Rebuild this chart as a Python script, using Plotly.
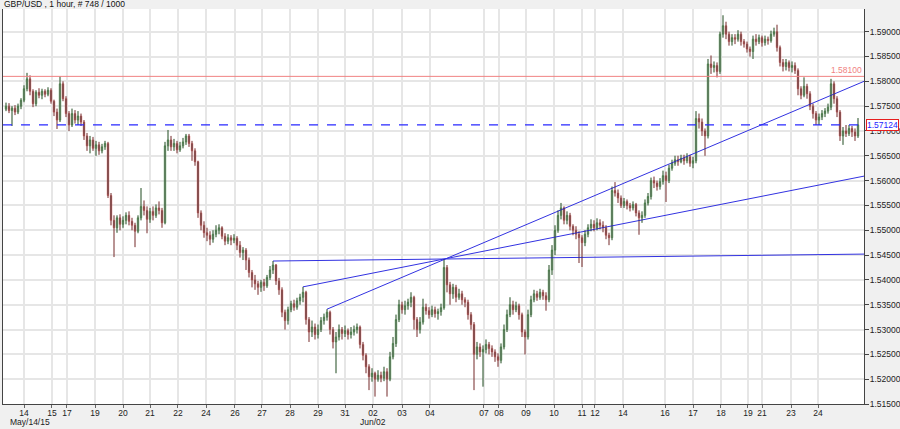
import plotly.graph_objects as go

title_text = "GBP/USD , 1 hour, # 748 / 1000"

closes = [
1.5750, 1.5741, 1.5746, 1.5738, 1.5750, 1.5762, 1.5785, 1.5805, 1.5780, 1.5755,
1.5778, 1.5772, 1.5780, 1.5774, 1.5782, 1.5760, 1.5738, 1.5722, 1.5795, 1.5765,
1.5735, 1.5712, 1.5735, 1.5722, 1.5730, 1.5718, 1.5690, 1.5670, 1.5682, 1.5665,
1.5672, 1.5660, 1.5668, 1.5675, 1.5570, 1.5520, 1.5505, 1.5525, 1.5512, 1.5520,
1.5530, 1.5518, 1.5510, 1.5498, 1.5525, 1.5548, 1.5540, 1.5522, 1.5538, 1.5530,
1.5545, 1.5540, 1.5515, 1.5670, 1.5682, 1.5668, 1.5675, 1.5662, 1.5670, 1.5678,
1.5690, 1.5675, 1.5660, 1.5638, 1.5535, 1.5510, 1.5495, 1.5490, 1.5482, 1.5492,
1.5500, 1.5505, 1.5488, 1.5478, 1.5485, 1.5480, 1.5484, 1.5470, 1.5455, 1.5460,
1.5440, 1.5415, 1.5400, 1.5392, 1.5385, 1.5395, 1.5388, 1.5405, 1.5420, 1.5430,
1.5398, 1.5380, 1.5335, 1.5318, 1.5340, 1.5352, 1.5345, 1.5358, 1.5365, 1.5375,
1.5320, 1.5295, 1.5305, 1.5290, 1.5300, 1.5318, 1.5325, 1.5335, 1.5300, 1.5275,
1.5285, 1.5300, 1.5292, 1.5298, 1.5290, 1.5295, 1.5300, 1.5305, 1.5270, 1.5248,
1.5225, 1.5205, 1.5212, 1.5200, 1.5208, 1.5202, 1.5215, 1.5200, 1.5245, 1.5272,
1.5320, 1.5350, 1.5340, 1.5348, 1.5355, 1.5365, 1.5320, 1.5300, 1.5315, 1.5345,
1.5338, 1.5330, 1.5340, 1.5332, 1.5336, 1.5344, 1.5425, 1.5390, 1.5372, 1.5385,
1.5365, 1.5372, 1.5360, 1.5355, 1.5330, 1.5310, 1.5250, 1.5265, 1.5255, 1.5260,
1.5270, 1.5262, 1.5255, 1.5245, 1.5238, 1.5265, 1.5300, 1.5330, 1.5350, 1.5340,
1.5348, 1.5330, 1.5295, 1.5285, 1.5330, 1.5360, 1.5372, 1.5365, 1.5375, 1.5368,
1.5360, 1.5420, 1.5460, 1.5500, 1.5530, 1.5545, 1.5520, 1.5530, 1.5508, 1.5500,
1.5492, 1.5485, 1.5475, 1.5492, 1.5505, 1.5512, 1.5505, 1.5515, 1.5510, 1.5505,
1.5490, 1.5485, 1.5580, 1.5575, 1.5565, 1.5550, 1.5558, 1.5550, 1.5545, 1.5552,
1.5535, 1.5525, 1.5530, 1.5555, 1.5568, 1.5600, 1.5595, 1.5588, 1.5598, 1.5610,
1.5600, 1.5625, 1.5635, 1.5642, 1.5638, 1.5645, 1.5640, 1.5648, 1.5635, 1.5640,
1.5725, 1.5718, 1.5700, 1.5690, 1.5835, 1.5828, 1.5832, 1.5820, 1.5895, 1.5912,
1.5895, 1.5880, 1.5888, 1.5885, 1.5895, 1.5880, 1.5875, 1.5865, 1.5860, 1.5885,
1.5880, 1.5888, 1.5878, 1.5885, 1.5882, 1.5895, 1.5900, 1.5868, 1.5838, 1.5830,
1.5838, 1.5828, 1.5832, 1.5822, 1.5785, 1.5772, 1.5790, 1.5775, 1.5750, 1.5735,
1.5722, 1.5728, 1.5735, 1.5740, 1.5748, 1.5795, 1.5765, 1.5738, 1.5690, 1.5700,
1.5695, 1.5705, 1.5698, 1.5690, 1.57124,
]

opens = [
1.5744, 1.5750, 1.5741, 1.5746, 1.5738, 1.5750, 1.5762, 1.5785, 1.5805, 1.5780,
1.5755, 1.5778, 1.5772, 1.5780, 1.5774, 1.5782, 1.5760, 1.5738, 1.5722, 1.5795,
1.5765, 1.5735, 1.5712, 1.5735, 1.5722, 1.5730, 1.5718, 1.5690, 1.5670, 1.5682,
1.5665, 1.5672, 1.5660, 1.5668, 1.5675, 1.5570, 1.5520, 1.5505, 1.5525, 1.5512,
1.5520, 1.5530, 1.5518, 1.5510, 1.5498, 1.5525, 1.5548, 1.5540, 1.5522, 1.5538,
1.5530, 1.5545, 1.5540, 1.5515, 1.5670, 1.5682, 1.5668, 1.5675, 1.5662, 1.5670,
1.5678, 1.5690, 1.5675, 1.5660, 1.5638, 1.5535, 1.5510, 1.5495, 1.5490, 1.5482,
1.5492, 1.5500, 1.5505, 1.5488, 1.5478, 1.5485, 1.5480, 1.5484, 1.5470, 1.5455,
1.5460, 1.5440, 1.5415, 1.5400, 1.5392, 1.5385, 1.5395, 1.5388, 1.5405, 1.5420,
1.5430, 1.5398, 1.5380, 1.5335, 1.5318, 1.5340, 1.5352, 1.5345, 1.5358, 1.5365,
1.5375, 1.5320, 1.5295, 1.5305, 1.5290, 1.5300, 1.5318, 1.5325, 1.5335, 1.5300,
1.5275, 1.5285, 1.5300, 1.5292, 1.5298, 1.5290, 1.5295, 1.5300, 1.5305, 1.5270,
1.5248, 1.5225, 1.5205, 1.5212, 1.5200, 1.5208, 1.5202, 1.5215, 1.5200, 1.5245,
1.5272, 1.5320, 1.5350, 1.5340, 1.5348, 1.5355, 1.5365, 1.5320, 1.5300, 1.5315,
1.5345, 1.5338, 1.5330, 1.5340, 1.5332, 1.5336, 1.5344, 1.5425, 1.5390, 1.5372,
1.5385, 1.5365, 1.5372, 1.5360, 1.5355, 1.5330, 1.5310, 1.5250, 1.5265, 1.5255,
1.5260, 1.5270, 1.5262, 1.5255, 1.5245, 1.5238, 1.5265, 1.5300, 1.5330, 1.5350,
1.5340, 1.5348, 1.5330, 1.5295, 1.5285, 1.5330, 1.5360, 1.5372, 1.5365, 1.5375,
1.5368, 1.5360, 1.5420, 1.5460, 1.5500, 1.5530, 1.5545, 1.5520, 1.5530, 1.5508,
1.5500, 1.5492, 1.5485, 1.5475, 1.5492, 1.5505, 1.5512, 1.5505, 1.5515, 1.5510,
1.5505, 1.5490, 1.5485, 1.5580, 1.5575, 1.5565, 1.5550, 1.5558, 1.5550, 1.5545,
1.5552, 1.5535, 1.5525, 1.5530, 1.5555, 1.5568, 1.5600, 1.5595, 1.5588, 1.5598,
1.5610, 1.5600, 1.5625, 1.5635, 1.5642, 1.5638, 1.5645, 1.5640, 1.5648, 1.5635,
1.5640, 1.5725, 1.5718, 1.5700, 1.5690, 1.5835, 1.5828, 1.5832, 1.5820, 1.5895,
1.5912, 1.5895, 1.5880, 1.5888, 1.5885, 1.5895, 1.5880, 1.5875, 1.5865, 1.5860,
1.5885, 1.5880, 1.5888, 1.5878, 1.5885, 1.5882, 1.5895, 1.5900, 1.5868, 1.5838,
1.5830, 1.5838, 1.5828, 1.5832, 1.5822, 1.5785, 1.5772, 1.5790, 1.5775, 1.5750,
1.5735, 1.5722, 1.5728, 1.5735, 1.5740, 1.5748, 1.5795, 1.5765, 1.5738, 1.5690,
1.5700, 1.5695, 1.5705, 1.5698, 1.5690,
]

highs = [
1.5757, 1.5756, 1.5750, 1.5752, 1.5755, 1.5766, 1.5792, 1.5817, 1.5812, 1.5784,
1.5782, 1.5786, 1.5785, 1.5784, 1.5788, 1.5786, 1.5763, 1.5745, 1.5810, 1.5800,
1.5770, 1.5740, 1.5745, 1.5742, 1.5740, 1.5735, 1.5722, 1.5696, 1.5690, 1.5688,
1.5680, 1.5678, 1.5674, 1.5680, 1.5678, 1.5575, 1.5530, 1.5530, 1.5532, 1.5528,
1.5536, 1.5538, 1.5525, 1.5515, 1.5530, 1.5585, 1.5560, 1.5548, 1.5545, 1.5548,
1.5552, 1.5558, 1.5545, 1.5678, 1.5702, 1.5690, 1.5684, 1.5680, 1.5678, 1.5686,
1.5694, 1.5694, 1.5680, 1.5665, 1.5640, 1.5540, 1.5518, 1.5505, 1.5498, 1.5500,
1.5510, 1.5512, 1.5508, 1.5494, 1.5492, 1.5490, 1.5492, 1.5488, 1.5478, 1.5466,
1.5464, 1.5445, 1.5420, 1.5410, 1.5398, 1.5400, 1.5402, 1.5410, 1.5428, 1.5438,
1.5432, 1.5404, 1.5385, 1.5340, 1.5346, 1.5358, 1.5360, 1.5364, 1.5372, 1.5386,
1.5378, 1.5325, 1.5318, 1.5312, 1.5310, 1.5325, 1.5332, 1.5341, 1.5338, 1.5305,
1.5295, 1.5310, 1.5305, 1.5308, 1.5302, 1.5305, 1.5308, 1.5312, 1.5308, 1.5275,
1.5252, 1.5230, 1.5222, 1.5215, 1.5218, 1.5215, 1.5225, 1.5222, 1.5255, 1.5285,
1.5330, 1.5360, 1.5356, 1.5358, 1.5362, 1.5375, 1.5368, 1.5325, 1.5325, 1.5362,
1.5352, 1.5345, 1.5348, 1.5346, 1.5342, 1.5352, 1.5442, 1.5430, 1.5396, 1.5392,
1.5390, 1.5382, 1.5378, 1.5365, 1.5360, 1.5335, 1.5315, 1.5275, 1.5272, 1.5268,
1.5280, 1.5275, 1.5268, 1.5260, 1.5252, 1.5272, 1.5310, 1.5340, 1.5365, 1.5358,
1.5356, 1.5352, 1.5334, 1.5300, 1.5340, 1.5368, 1.5380, 1.5378, 1.5382, 1.5380,
1.5375, 1.5430, 1.5470, 1.5510, 1.5540, 1.5555, 1.5548, 1.5538, 1.5535, 1.5512,
1.5508, 1.5498, 1.5490, 1.5500, 1.5512, 1.5522, 1.5520, 1.5524, 1.5522, 1.5518,
1.5510, 1.5495, 1.5588, 1.5597, 1.5582, 1.5570, 1.5565, 1.5562, 1.5555, 1.5558,
1.5555, 1.5540, 1.5538, 1.5562, 1.5575, 1.5606, 1.5608, 1.5600, 1.5605, 1.5620,
1.5618, 1.5632, 1.5642, 1.5650, 1.5650, 1.5652, 1.5652, 1.5655, 1.5652, 1.5648,
1.5740, 1.5735, 1.5725, 1.5705, 1.5845, 1.5852, 1.5840, 1.5838, 1.5900, 1.5933,
1.5920, 1.5900, 1.5895, 1.5895, 1.5903, 1.5900, 1.5885, 1.5880, 1.5870, 1.5892,
1.5895, 1.5894, 1.5892, 1.5892, 1.5890, 1.5902, 1.5908, 1.5914, 1.5872, 1.5845,
1.5845, 1.5842, 1.5840, 1.5838, 1.5826, 1.5790, 1.5808, 1.5795, 1.5780, 1.5755,
1.5740, 1.5735, 1.5742, 1.5746, 1.5755, 1.5805, 1.5800, 1.5770, 1.5742, 1.5708,
1.5712, 1.5712, 1.5710, 1.5705, 1.5726,
]

lows = [
1.5740, 1.5736, 1.5710, 1.5732, 1.5734, 1.5744, 1.5758, 1.5780, 1.5772, 1.5748,
1.5750, 1.5766, 1.5764, 1.5768, 1.5770, 1.5755, 1.5730, 1.5704, 1.5718, 1.5760,
1.5728, 1.5700, 1.5708, 1.5715, 1.5712, 1.5710, 1.5682, 1.5660, 1.5655, 1.5660,
1.5650, 1.5652, 1.5655, 1.5662, 1.5565, 1.5510, 1.5446, 1.5495, 1.5500, 1.5505,
1.5512, 1.5510, 1.5500, 1.5466, 1.5494, 1.5520, 1.5530, 1.5494, 1.5515, 1.5520,
1.5525, 1.5532, 1.5505, 1.5512, 1.5660, 1.5660, 1.5660, 1.5655, 1.5658, 1.5665,
1.5672, 1.5668, 1.5640, 1.5630, 1.5525, 1.5500, 1.5485, 1.5478, 1.5470, 1.5475,
1.5486, 1.5492, 1.5482, 1.5470, 1.5472, 1.5470, 1.5474, 1.5460, 1.5445, 1.5440,
1.5420, 1.5405, 1.5385, 1.5380, 1.5370, 1.5376, 1.5378, 1.5384, 1.5400, 1.5412,
1.5390, 1.5370, 1.5325, 1.5300, 1.5310, 1.5335, 1.5338, 1.5340, 1.5350, 1.5355,
1.5310, 1.5275, 1.5285, 1.5280, 1.5282, 1.5295, 1.5310, 1.5318, 1.5290, 1.5262,
1.5212, 1.5278, 1.5280, 1.5285, 1.5280, 1.5282, 1.5288, 1.5292, 1.5262, 1.5238,
1.5212, 1.5178, 1.5195, 1.5165, 1.5195, 1.5194, 1.5196, 1.5165, 1.5196, 1.5240,
1.5265, 1.5315, 1.5332, 1.5330, 1.5340, 1.5345, 1.5300, 1.5285, 1.5292, 1.5310,
1.5330, 1.5322, 1.5325, 1.5324, 1.5320, 1.5328, 1.5340, 1.5375, 1.5350, 1.5362,
1.5355, 1.5360, 1.5350, 1.5345, 1.5320, 1.5300, 1.5178, 1.5240, 1.5245, 1.5185,
1.5252, 1.5250, 1.5245, 1.5235, 1.5225, 1.5232, 1.5260, 1.5295, 1.5325, 1.5330,
1.5335, 1.5320, 1.5285, 1.5250, 1.5280, 1.5325, 1.5355, 1.5358, 1.5360, 1.5360,
1.5338, 1.5355, 1.5410, 1.5450, 1.5495, 1.5522, 1.5512, 1.5512, 1.5500, 1.5490,
1.5482, 1.5434, 1.5426, 1.5468, 1.5486, 1.5498, 1.5498, 1.5500, 1.5502, 1.5496,
1.5482, 1.5470, 1.5480, 1.5568, 1.5555, 1.5545, 1.5545, 1.5542, 1.5538, 1.5540,
1.5528, 1.5491, 1.5515, 1.5525, 1.5550, 1.5562, 1.5585, 1.5580, 1.5582, 1.5592,
1.5557, 1.5595, 1.5620, 1.5630, 1.5630, 1.5635, 1.5632, 1.5635, 1.5628, 1.5625,
1.5635, 1.5705, 1.5690, 1.5650, 1.5685, 1.5815, 1.5818, 1.5808, 1.5815, 1.5888,
1.5885, 1.5872, 1.5872, 1.5875, 1.5880, 1.5872, 1.5868, 1.5858, 1.5850, 1.5845,
1.5872, 1.5875, 1.5870, 1.5872, 1.5874, 1.5878, 1.5890, 1.5860, 1.5830, 1.5820,
1.5822, 1.5820, 1.5818, 1.5815, 1.5772, 1.5764, 1.5768, 1.5765, 1.5742, 1.5725,
1.5712, 1.5712, 1.5722, 1.5728, 1.5735, 1.5742, 1.5755, 1.5728, 1.5680, 1.5672,
1.5688, 1.5690, 1.5688, 1.5680, 1.5686,
]

bar_index = list(range(len(closes)))

tick_pos = [6, 15.33, 20.33, 29.67, 39, 48, 57.33, 66.67, 76.33, 85.33, 94.67, 104,
            113, 122.33, 132, 141.33, 159.33, 164.33, 173.33, 182.67, 192, 196.33,
            205.67, 219.67, 229, 238.33, 247.33, 252, 261.67, 270.67]
tick_labels = ["14", "15", "17", "19", "20", "21", "22", "24", "26", "27", "28", "29",
               "31", "02", "03", "04", "07", "08", "09", "10", "11", "12", "14", "16",
               "17", "18", "19", "21", "23", "24"]
sub_labels = ["May/14/15", "Jun/02"]

y_ticks = [1.515, 1.52, 1.525, 1.53, 1.535, 1.54, 1.545, 1.55, 1.555, 1.56,
           1.565, 1.57, 1.575, 1.58, 1.585, 1.59]

resistance_level = 1.581
last_price = 1.57124

# fan lines: (start index, start price) -> (end index, end price)
fan_start_x = [89, 99, 107]
fan_start_y = [1.5438, 1.5386, 1.5341]
fan_end_x = [286, 286, 286]
fan_end_y = [1.5452, 1.5609, 1.5800]

X_MIN, X_MAX = -1, 286
Y_MIN, Y_MAX = 1.515, 1.59457

FONT = "Liberation Sans, Arial, sans-serif"
fig = go.Figure()

# fan lines
for sx, sy, ex, ey in zip(fan_start_x, fan_start_y, fan_end_x, fan_end_y):
    fig.add_trace(go.Scatter(x=[sx, ex], y=[sy, ey], mode="lines",
                             line=dict(color="rgb(50,50,225)", width=1),
                             hoverinfo="skip", showlegend=False))

fig.add_trace(go.Candlestick(
    x=bar_index, open=opens, high=highs, low=lows, close=closes,
    increasing=dict(line=dict(color="rgb(80,160,80)", width=0.8), fillcolor="rgb(140,140,140)"),
    decreasing=dict(line=dict(color="rgb(230,95,95)", width=0.8), fillcolor="rgb(40,40,40)"),
    whiskerwidth=0, showlegend=False, hoverinfo="skip",
))

# dark high-low wicks drawn over the coloured candles
wick_x, wick_y = [], []
for i, h, l in zip(bar_index, highs, lows):
    wick_x += [i, i, None]
    wick_y += [l, h, None]
fig.add_trace(go.Scatter(x=wick_x, y=wick_y, mode="lines",
                         line=dict(color="rgba(45,45,45,0.75)", width=0.8),
                         hoverinfo="skip", showlegend=False))

# horizontal level lines
fig.add_shape(type="line", xref="paper", x0=0, x1=1, yref="y",
              y0=resistance_level, y1=resistance_level,
              line=dict(color="rgb(240,130,130)", width=1))
fig.add_shape(type="line", xref="paper", x0=0, x1=1, yref="y",
              y0=last_price, y1=last_price,
              line=dict(color="rgb(40,40,255)", width=1.2, dash="dash"))

annotations = [
    dict(text=title_text, xref="paper", yref="paper", x=-0.0012, y=1.0114,
         xanchor="left", yanchor="middle", showarrow=False,
         font=dict(size=8.5, color="#111", family=FONT)),
    dict(text=f"{resistance_level:.5f}", xref="x", yref="y", x=X_MAX, y=resistance_level,
         xanchor="right", yanchor="bottom", yshift=-1, showarrow=False,
         font=dict(size=8.5, color="rgb(240,130,130)", family=FONT)),
    dict(text=f"{last_price:.5f}", xref="paper", yref="y", x=1, xshift=2, y=last_price,
         xanchor="left", yanchor="middle", showarrow=False,
         bgcolor="white", bordercolor="rgb(230,30,30)", borderwidth=1, borderpad=0,
         font=dict(size=8.5, color="rgb(30,30,255)", family=FONT)),
    dict(text=sub_labels[0], xref="paper", yref="paper", x=0.0058, y=-0.046,
         xanchor="left", yanchor="middle", showarrow=False,
         font=dict(size=8.5, color="#222", family=FONT)),
    dict(text=sub_labels[1], xref="x", yref="paper", x=tick_pos[13], y=-0.046,
         xanchor="center", yanchor="middle", showarrow=False,
         font=dict(size=8.5, color="#222", family=FONT)),
]

fig.update_layout(
    width=900, height=429,
    margin=dict(l=3, r=36, t=9, b=25, autoexpand=False),
    paper_bgcolor="#f0f0f0", plot_bgcolor="white",
    font=dict(family=FONT, size=8.5, color="#222"),
    showlegend=False,
    annotations=annotations,
    xaxis=dict(
        range=[X_MIN, X_MAX], rangeslider=dict(visible=False),
        tickmode="array", tickvals=tick_pos, ticktext=tick_labels,
        showgrid=True, gridcolor="#e6e6e6", gridwidth=2,
        showline=True, linecolor="#444", linewidth=1,
        ticks="outside", ticklen=3, tickcolor="#666",
        ticklabelstandoff=-2,
        tickfont=dict(size=8.5, color="#222", family=FONT),
        zeroline=False, fixedrange=True, automargin=False,
    ),
    yaxis=dict(
        range=[Y_MIN, Y_MAX], side="right",
        tickmode="array", tickvals=y_ticks, ticktext=[f"{v:.5f}" for v in y_ticks],
        showgrid=True, gridcolor="#e6e6e6", gridwidth=2,
        showline=True, linecolor="#444", linewidth=1, mirror=True,
        ticks="outside", ticklen=4, tickcolor="#444",
        ticklabelstandoff=-1,
        tickfont=dict(size=8.5, color="#222", family=FONT),
        zeroline=False, fixedrange=True, automargin=False,
    ),
)

fig.write_html("out.html", config={"displayModeBar": False},
               post_script="document.body.style.margin='0';document.body.style.overflow='hidden';")
